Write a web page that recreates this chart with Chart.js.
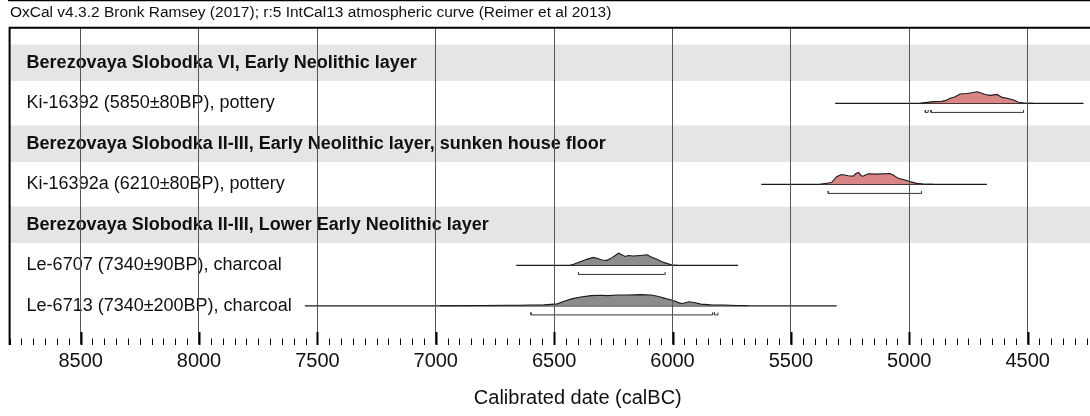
<!DOCTYPE html>
<html>
<head>
<meta charset="utf-8">
<script src="https://cdn.jsdelivr.net/npm/chart.js@4.4.1/dist/chart.umd.min.js"></script>
<style>
  html, body { margin: 0; padding: 0; overflow: hidden; background: #fff; }
  #wrap { position: relative; width: 1090px; height: 416px; overflow: hidden; }
  #header { position: absolute; left: 10px; top: 3px; font: 15.5px "Liberation Sans", Arial, sans-serif; color: #111; white-space: nowrap; }
  canvas { display: block; }
</style>
</head>
<body>
<div id="wrap">
  <canvas id="chart" width="1150" height="416"></canvas>
  <div id="header">OxCal v4.3.2 Bronk Ramsey (2017); r:5 IntCal13 atmospheric curve (Reimer et al 2013)</div>
</div>
<script>
// OxCal plot - calibrated radiocarbon dates, Berezovaya Slobodka
const FONT = '"Liberation Sans", Arial, Helvetica, sans-serif';

const rowLabels = [
  'Berezovaya Slobodka VI, Early Neolithic layer',
  'Ki-16392 (5850\u00b180BP), pottery',
  'Berezovaya Slobodka II-III, Early Neolithic layer, sunken house floor',
  'Ki-16392a (6210\u00b180BP), pottery',
  'Berezovaya Slobodka II-III, Lower Early Neolithic layer',
  'Le-6707 (7340\u00b190BP), charcoal',
  'Le-6713 (7340\u00b1200BP), charcoal'
];
const headerRows = [0, 2, 4];

const xTickValues = [8500, 8000, 7500, 7000, 6500, 6000, 5500, 5000, 4500];
const xMinorStep = 50;

// calBC years and relative probability (peak ~1)
const ki16392Years = [4954, 4932, 4897, 4862, 4848, 4827, 4806, 4785, 4756, 4735, 4714, 4700, 4679, 4658, 4629, 4608, 4587, 4559, 4538, 4517, 4476];
const ki16392Prob  = [0, 0.06, 0.14, 0.16, 0.22, 0.41, 0.54, 0.76, 0.81, 0.87, 0.95, 0.87, 0.73, 0.65, 0.73, 0.49, 0.41, 0.27, 0.08, 0.02, 0];
const ki16392Range = [5313, 4264];
const ki16392Hpd   = [[4932, 4920], [4908, 4517]];

const ki16392aYears = [5377, 5356, 5328, 5307, 5286, 5258, 5237, 5225, 5214, 5201, 5191, 5173, 5138, 5103, 5082, 5068, 5046, 5018, 4997, 4969, 4941, 4900];
const ki16392aProb  = [0, 0.06, 0.14, 0.63, 0.81, 0.71, 0.67, 0.89, 0.98, 0.67, 0.71, 0.87, 0.84, 0.87, 0.89, 0.76, 0.49, 0.35, 0.22, 0.08, 0.02, 0];
const ki16392aRange = [5625, 4672];
const ki16392aHpd   = [[5342, 4948]];

const le6707Years = [6432, 6418, 6390, 6362, 6334, 6313, 6298, 6277, 6256, 6242, 6228, 6214, 6200, 6186, 6165, 6137, 6108, 6087, 6066, 6045, 6024, 6003, 5982];
const le6707Prob  = [0, 0.08, 0.30, 0.49, 0.65, 0.54, 0.43, 0.41, 0.63, 0.81, 1.0, 0.87, 0.73, 0.81, 0.76, 0.81, 0.87, 0.67, 0.49, 0.30, 0.16, 0.02, 0];
const le6707Range = [6660, 5723];
const le6707Hpd   = [[6397, 6031]];

const le6713Years = [6980, 6800, 6700, 6655, 6598, 6542, 6486, 6458, 6422, 6387, 6345, 6303, 6274, 6232, 6190, 6134, 6091, 6063, 6028, 6000, 5972, 5958, 5930, 5909, 5880, 5838, 5782, 5725, 5683];
const le6713Prob  = [0, 0.02, 0.04, 0.05, 0.06, 0.08, 0.16, 0.38, 0.59, 0.73, 0.84, 0.87, 0.84, 0.89, 0.89, 0.92, 0.89, 0.79, 0.59, 0.46, 0.24, 0.19, 0.33, 0.27, 0.14, 0.08, 0.06, 0.02, 0];
const le6713Range = [7553, 5307];
const le6713Hpd   = [[6598, 5831], [5823, 5808]];

const samples = [
  { row: 1, years: ki16392Years,  prob: ki16392Prob,  range: ki16392Range,  hpd: ki16392Hpd,  color: '#d98585' },
  { row: 3, years: ki16392aYears, prob: ki16392aProb, range: ki16392aRange, hpd: ki16392aHpd, color: '#d98585' },
  { row: 5, years: le6707Years,   prob: le6707Prob,   range: le6707Range,   hpd: le6707Hpd,   color: '#8c8c8c' },
  { row: 6, years: le6713Years,   prob: le6713Prob,   range: le6713Range,   hpd: le6713Hpd,   color: '#8c8c8c' }
];

const probScale = 0.3;      // row units per unit probability
const bracketOffset = 0.225;
const bracketTick = 0.06;

const datasets = [];
samples.forEach(s => {
  datasets.push({
    data: s.years.map((yr, i) => ({ x: yr, y: s.row - s.prob[i] * probScale })),
    fill: { value: s.row },
    backgroundColor: s.color,
    borderColor: '#1a1a1a',
    borderWidth: 1.1
  });
  datasets.push({
    data: s.range.map(yr => ({ x: yr, y: s.row })),
    borderColor: '#1a1a1a',
    borderWidth: 1.3,
    fill: false
  });
  s.hpd.forEach(([a, b]) => {
    const yb = s.row + bracketOffset;
    datasets.push({
      data: [
        { x: a, y: yb - bracketTick }, { x: a, y: yb },
        { x: b, y: yb }, { x: b, y: yb - bracketTick }
      ],
      borderColor: '#333',
      borderWidth: 1,
      fill: false
    });
  });
});

const rowsPlugin = {
  id: 'rows',
  beforeDatasetsDraw(chart) {
    const { ctx, chartArea, scales: { y } } = chart;
    const pxPerRow = Math.abs(y.getPixelForValue(1) - y.getPixelForValue(0));
    ctx.save();
    headerRows.forEach(r => {
      const cy = y.getPixelForValue(r);
      ctx.fillStyle = '#e5e5e5';
      ctx.fillRect(chartArea.left, cy - pxPerRow * 0.45, chartArea.right - chartArea.left, pxPerRow * 0.9);
    });
    ctx.textBaseline = 'middle';
    ctx.fillStyle = '#111';
    rowLabels.forEach((label, r) => {
      ctx.font = (headerRows.includes(r) ? 'bold ' : '') + '18px ' + FONT;
      ctx.fillText(label, chartArea.left + 17, y.getPixelForValue(r));
    });
    ctx.restore();
  },
  afterDraw(chart) {
    const { ctx, chartArea, scales: { x } } = chart;
    ctx.save();
    ctx.strokeStyle = '#000';
    ctx.lineWidth = 2;
    ctx.beginPath();
    ctx.moveTo(chartArea.left, chartArea.bottom);
    ctx.lineTo(chartArea.left, chartArea.top);
    ctx.lineTo(chartArea.right, chartArea.top);
    ctx.stroke();
    // inward ticks on the time axis
    for (let v = x.min; v <= x.max; v += xMinorStep) {
      const px = Math.round(x.getPixelForValue(v)) + 0.5;
      const major = xTickValues.includes(v);
      ctx.lineWidth = major ? 2 : 1;
      ctx.beginPath();
      ctx.moveTo(px, chartArea.bottom);
      ctx.lineTo(px, chartArea.bottom - (major ? 13 : 6.5));
      ctx.stroke();
    }
    ctx.restore();
  }
};

new Chart(document.getElementById('chart'), {
  type: 'scatter',
  data: { datasets },
  options: {
    responsive: false,
    animation: false,
    showLine: true,
    elements: { point: { radius: 0 }, line: { tension: 0 } },
    layout: { padding: { left: 9.6, right: 4, top: 27.7, bottom: 0 }, autoPadding: false },
    plugins: {
      legend: { display: false },
      tooltip: { enabled: false },
      title: { display: false }
    },
    scales: {
      x: {
        type: 'linear',
        reverse: true,
        min: 4000,
        max: 8800,
        afterBuildTicks: scale => {
          scale.ticks = xTickValues.map(v => ({ value: v }));
        },
        afterFit: scale => { scale.height = 71; },
        grid: { color: '#555', lineWidth: 1, drawTicks: false, z: 1 },
        border: { display: true, color: '#000', width: 2.5 },
        ticks: {
          padding: 4.5,
          autoSkip: false,
          maxRotation: 0,
          color: '#111',
          font: { family: FONT, size: 20 },
          callback: v => String(v)
        },
        title: {
          display: true,
          text: 'Calibrated date (calBC)',
          color: '#111',
          font: { family: FONT, size: 20 },
          padding: { top: 4, bottom: 6 }
        }
      },
      y: {
        type: 'linear',
        reverse: true,
        min: -0.867,
        max: 6.968,
        display: false
      }
    }
  },
  plugins: [rowsPlugin]
});
</script>
</body>
</html>
